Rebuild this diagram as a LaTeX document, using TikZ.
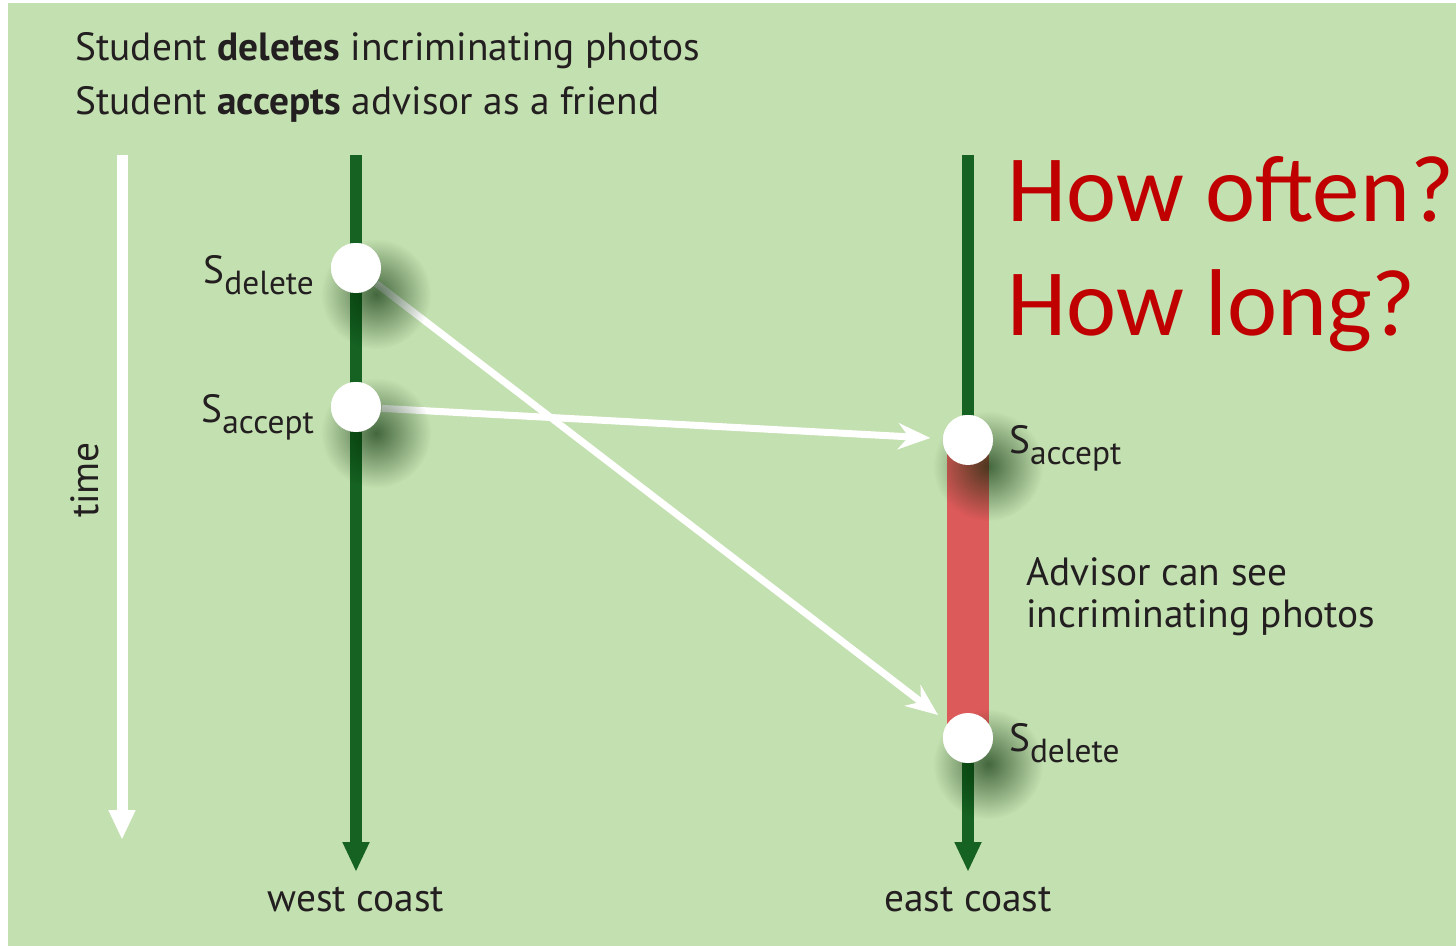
\documentclass[tikz,border=0pt]{standalone}
\usepackage{fontspec}
\setmainfont{PT Sans}
\newfontfamily\askfont{Carlito}
\usetikzlibrary{arrows.meta,positioning,fadings}
\definecolor{bggreen}{HTML}{C3E0B0}
\definecolor{linegreen}{HTML}{156222}
\definecolor{barred}{HTML}{DD5A5A}
\definecolor{askred}{HTML}{C00000}
\definecolor{ink}{HTML}{231F20}
\tikzfading[name=softshade, inner color=transparent!35, outer color=transparent!100]
\newcommand{\evt}[1]{S\raisebox{-0.6ex}{\fontsize{9.5}{10}\selectfont #1}}

\begin{document}
\begin{tikzpicture}[x=0.1mm,y=-0.1mm,
  every node/.style={text=ink,font=\fontsize{11.2}{13}\selectfont},
  event/.style={circle,fill=white,inner sep=0pt,minimum size=5mm},
  timeline/.style={line width=1.2mm,draw=linegreen,-{Triangle[width=2.5mm,length=3mm]}},
  msg/.style={line width=0.7mm,draw=white,-{Stealth[width=2.6mm,length=3.2mm]},shorten >=1.2mm},
  shade/.style={fill=black!85!green,path fading=softshade}]
 \useasboundingbox (0,0) rectangle (1456,946);
 \fill[bggreen] (8,3) rectangle (1456,946);

 \node[anchor=west] (head1) at (63,51) {Student \textbf{deletes} incriminating photos};
 \node[anchor=west] (head2) at (63,104) {Student \textbf{accepts} advisor as a friend};

 % time axis
 \coordinate (ttop) at (122,155);
 \coordinate (tbot) at (122,840);
 \draw[line width=1.1mm,white,-{Triangle[width=2.5mm,length=3mm]}] (ttop) -- (tbot);
 \node[rotate=90] (time) at (85,480) {time};

 % the two sites
 \coordinate (wtop) at (356,155);
 \coordinate (wbot) at (356,872);
 \coordinate (etop) at (968,155);
 \coordinate (ebot) at (968,872);
 \draw[timeline] (wtop) -- (wbot);
 \draw[timeline] (etop) -- (ebot);
 \node[below=0.3mm of wbot] (west) {west coast};
 \node[below=0.3mm of ebot] (east) {east coast};

 \node[event] (wdel) at (356,268) {};
 \node[event] (wacc) at (356,407) {};
 \node[event] (eacc) at (968,440) {};
 \node[event] (edel) at (968,738) {};

 \fill[barred] ([xshift=-2.1mm]eacc.center) rectangle ([xshift=2.1mm]edel.center);

 \path[msg] (wdel) edge (edel)
            (wacc) edge (eacc);

 \foreach \ev in {wdel,wacc,eacc,edel}
  \fill[shade] ([shift={(20,26)}]\ev.center) circle[radius=55];
 \foreach \ev in {wdel,wacc,eacc,edel}
  \node[event] at (\ev) {};

 \node[anchor=base east] (lwdel) at ([xshift=-0.4mm,yshift=-1.5mm]wdel.west) {\evt{delete}};
 \node[anchor=base east] (lwacc) at ([xshift=-0.4mm,yshift=-1.5mm]wacc.west) {\evt{accept}};
 \node[anchor=base west] (leacc) at ([xshift=0.3mm,yshift=-1.3mm]eacc.east) {\evt{accept}};
 \node[anchor=base west] (ledel) at ([xshift=0.3mm,yshift=-1.3mm]edel.east) {\evt{delete}};

 \node[anchor=west,align=left,font=\fontsize{11.2}{12}\selectfont] (seen) at (1014,597)
  {Advisor can see\\incriminating photos};

 \node[anchor=west,align=left,text=askred,font=\askfont\fontsize{27}{32.6}\selectfont] (ask) at (995,254)
  {How often?\\How long?};
\end{tikzpicture}
\end{document}
